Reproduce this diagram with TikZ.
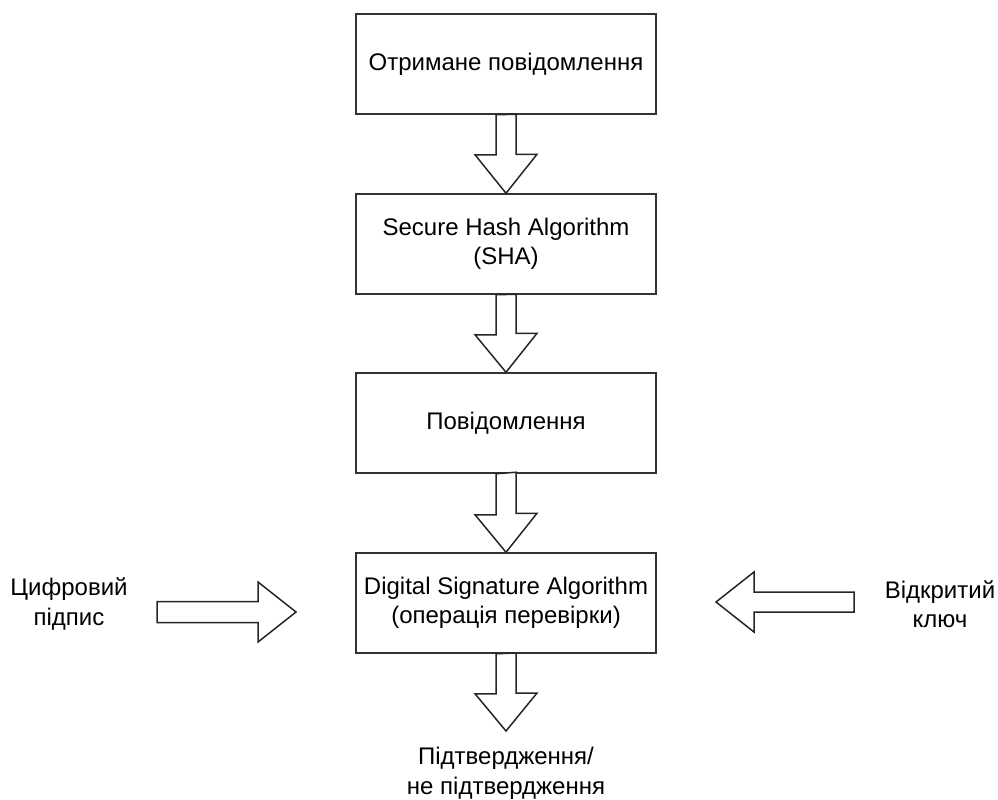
\documentclass[tikz,border=0pt]{standalone}
\usepackage{fontspec}
\setmainfont{Liberation Sans}
\usetikzlibrary{calc}
\begin{document}
\begin{tikzpicture}[x=1pt,y=-1pt,
  box/.style={draw=black!80,line width=1.5pt,minimum width=300pt,minimum height=100pt,align=center,inner sep=0pt,font=\fontsize{24}{29.5}\selectfont},
  lbl/.style={align=center,inner sep=0pt,font=\fontsize{24}{29.5}\selectfont},
  barrow/.style={draw=black!85,line width=1.5pt,fill=white,line join=miter}]
\useasboundingbox (0,0) rectangle (998,800);
\node[box] (a) at (506,64) {Отримане повідомлення};
\node[box] (b) at (506,244) {Secure Hash Algorithm\\(SHA)};
\node[box] (c) at (506,423) {Повідомлення};
\node[box] (d) at (506,603) {Digital Signature Algorithm\\(операція перевірки)};
\node[lbl] (l) at (69,604) {Цифровий\\підпис};
\node[lbl] (r) at (940,604) {Відкритий\\ключ};
\node[lbl] (res) at (506,773.5) {Підтвердження/\\не підтвердження};
\coordinate (restip) at (506,731);
\coordinate (lstart) at (157,612);
\coordinate (ltip) at (296,612);
\coordinate (rstart) at (854,602);
\coordinate (rtip) at (716,602);
% vertical block arrows
\draw[barrow] (a.south) ++(-10,0) -- ++(0,40) -- ++(-21,0) -- (b.north) -- ++(31,-39) -- ++(-21,0) -- ++(0,-40) -- cycle;
\draw[barrow] (b.south) ++(-10,0) -- ++(0,40) -- ++(-21,0) -- (c.north) -- ++(31,-39) -- ++(-21,0) -- ++(0,-39) -- cycle;
\draw[barrow] (c.south) ++(-10,0) -- ++(0,41) -- ++(-21,0) -- (d.north) -- ++(31,-39) -- ++(-21,0) -- ++(0,-41) -- cycle;
\draw[barrow] (d.south) ++(-10,0) -- ++(0,40) -- ++(-21,0) -- (restip) -- ++(31,-38) -- ++(-21,0) -- ++(0,-40) -- cycle;
% horizontal block arrows
\draw[barrow] (lstart) ++(0,-10.5) -- ++(101,0) -- ++(0,-19.5) -- (ltip) -- ++(-38,30) -- ++(0,-19.5) -- ++(-101,0) -- cycle;
\draw[barrow] (rstart) ++(0,-10) -- ++(-100,0) -- ++(0,-20) -- (rtip) -- ++(38,30) -- ++(0,-20) -- ++(100,0) -- cycle;
\end{tikzpicture}
\end{document}
